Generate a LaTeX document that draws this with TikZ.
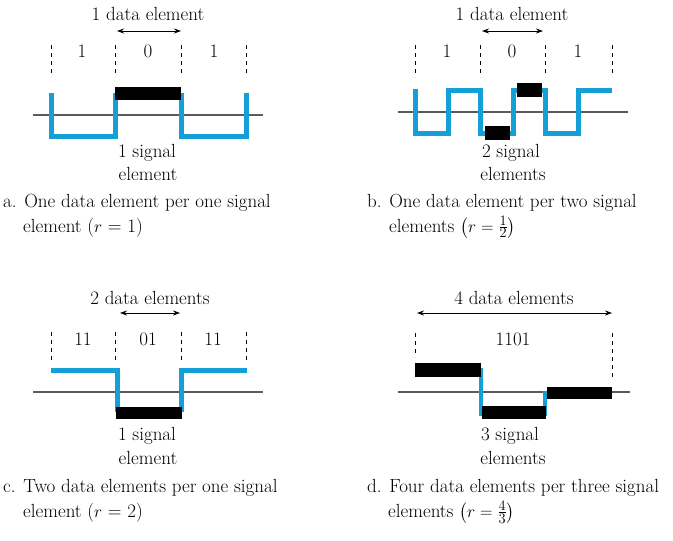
\documentclass[tikz,border=0pt]{standalone}
\usepackage{amsmath}
\usetikzlibrary{arrows.meta}
\definecolor{sigblue}{RGB}{20,160,215}
\definecolor{axisgray}{RGB}{90,90,90}
\begin{document}
\begin{tikzpicture}[x=1pt,y=-1pt,
  txt/.style={inner sep=0pt,anchor=base,font=\fontsize{19}{23}\selectfont},
  captxt/.style={inner sep=0pt,anchor=base west,font=\fontsize{19}{23}\selectfont},
  guide/.style={draw=black,line width=0.9pt,dash pattern=on 4pt off 4pt},
  axisline/.style={draw=axisgray,line width=1.3pt},
  sig/.style={draw=sigblue,line width=5pt,line join=miter,line cap=butt},
  bar/.style={fill=black,draw=none},
  span/.style={draw=black,line width=0.9pt,{Stealth[length=7pt,width=5pt]}-{Stealth[length=7pt,width=5pt]}}]
\useasboundingbox (0,0) rectangle (673,541);

% ---------------- panel a ----------------
\node[txt] (atop) at (148,20) {1 data element};
\coordinate (aL) at (117,31); \coordinate (aR) at (181,31);
\draw[span] (aL) -- (aR);
\foreach \x in {51,115,181,246} \draw[guide] (\x,45) -- (\x,77);
\node[txt] (ad1) at (82,57) {1};
\node[txt] (ad2) at (148,57) {0};
\node[txt] (ad3) at (214,57) {1};
\draw[axisline] (33,115) -- (263,115);
\draw[sig] (51,93) -- (51,136) -- (115,136) -- (115,93);
\draw[sig] (181,93) -- (181,136) -- (246,136) -- (246,93);
\fill[bar] (115,87) rectangle (181,100);
\node[txt] (as1) at (147,157) {1 signal};
\node[txt] (as2) at (148,180) {element};
\node[captxt] (acap1) at (3,207) {a. One data element per one signal};
\node[captxt] (acap2) at (23,232) {element ($r$ = 1)};

% ---------------- panel b ----------------
\node[txt] (btop) at (512,20) {1 data element};
\coordinate (bL) at (482,31); \coordinate (bR) at (543,31);
\draw[span] (bL) -- (bR);
\foreach \x in {415,480,545,612} \draw[guide] (\x,45) -- (\x,77);
\node[txt] (bd1) at (447,57) {1};
\node[txt] (bd2) at (512,57) {0};
\node[txt] (bd3) at (578,57) {1};
\draw[axisline] (398,112) -- (628,112);
\draw[sig] (415,89) -- (415,133) -- (448,133) -- (448,90) -- (480,90) -- (480,133)
  -- (513,133) -- (513,90) -- (545,90) -- (545,133) -- (578,133) -- (578,90) -- (612,90);
\fill[bar] (485,126) rectangle (510,140);
\fill[bar] (517,83) rectangle (542,97);
\node[txt] (bs1) at (511,157) {2 signal};
\node[txt] (bs2) at (513,180) {elements};
\node[captxt] (bcap1) at (367,207) {b. One data element per two signal};
\node[captxt] (bcap2) at (389,232) {elements $\bigl(r = \tfrac{1}{2}\bigr)$};

% ---------------- panel c ----------------
\node[txt] (ctop) at (150,304) {2 data elements};
\coordinate (cL) at (120,313); \coordinate (cR) at (180,313);
\draw[span] (cL) -- (cR);
\foreach \x in {51,115,181,246} \draw[guide] (\x,332) -- (\x,363);
\node[txt] (cd1) at (83,345) {11};
\node[txt] (cd2) at (148,345) {01};
\node[txt] (cd3) at (213,345) {11};
\draw[axisline] (33,392) -- (263,392);
\draw[sig] (51,370) -- (117,370) -- (117,412);
\draw[sig] (181,412) -- (181,370) -- (247,370);
\fill[bar] (116,407) rectangle (182,419);
\node[txt] (cs1) at (147,440) {1 signal};
\node[txt] (cs2) at (148,464) {element};
\node[captxt] (ccap1) at (3,492) {c. Two data elements per one signal};
\node[captxt] (ccap2) at (23,517) {element ($r$ = 2)};

% ---------------- panel d ----------------
\node[txt] (dtop) at (514,304) {4 data elements};
\coordinate (dL) at (417,313); \coordinate (dR) at (612,313);
\draw[span] (dL) -- (dR);
\draw[guide] (415,333) -- (415,357);
\draw[guide] (612,333) -- (612,377);
\node[txt] (dd) at (513,345) {1101};
\draw[axisline] (398,392) -- (630,392);
\draw[sig,line width=4pt] (481,368) -- (481,416);
\draw[sig,line width=4pt] (545,391) -- (545,416);
\fill[bar] (415,363) rectangle (481,377);
\fill[bar] (482,406) rectangle (546,419);
\fill[bar] (547,387) rectangle (612,399);
\node[txt] (ds1) at (510,440) {3 signal};
\node[txt] (ds2) at (513,464) {elements};
\node[captxt] (dcap1) at (367,492) {d. Four data elements per three signal};
\node[captxt] (dcap2) at (388,517) {elements $\bigl(r = \tfrac{4}{3}\bigr)$};
\end{tikzpicture}
\end{document}
